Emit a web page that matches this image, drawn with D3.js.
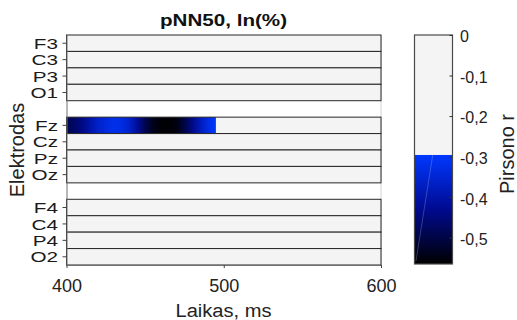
<!DOCTYPE html>
<html>
<head>
<meta charset="utf-8">
<script src="https://cdn.jsdelivr.net/npm/d3@7"></script>
<style>
  html, body { margin: 0; padding: 0; background: #fff; }
  svg { display: block; font-family: "Liberation Sans", Arial, sans-serif; }
</style>
</head>
<body>
<svg id="chart" width="517" height="320"></svg>
<script>
// Electrode rows, top to bottom; "_1"/"_2" are empty spacer rows between groups
const rowSlots = ["F3", "C3", "P3", "O1", "_1", "Fz", "Cz", "Pz", "Oz", "_2", "F4", "C4", "P4", "O2"];
const electrodes = rowSlots.filter(d => !d.startsWith("_"));

// Time axis (ms)
const timeTicks = [400, 500, 600];

// Significant Pearson r for Fz, sampled every 5 ms (all other electrodes non-significant)
const fzTimes = [400, 405, 410, 415, 420, 425, 430, 435, 440, 445,
                 450, 455, 460, 465, 470, 475, 480, 485, 490, 495];
const fzR = [-0.49, -0.47, -0.44, -0.40, -0.36, -0.34, -0.32, -0.33, -0.36, -0.42,
             -0.49, -0.54, -0.56, -0.56, -0.55, -0.50, -0.44, -0.38, -0.33, -0.30];
const sigElectrode = "Fz";

// Colour scale range and colorbar ticks
const rMin = -0.565;
const rThreshold = -0.296;
const cbTicks = [0, -0.1, -0.2, -0.3, -0.4, -0.5];

const svg = d3.select("#chart");
const plot = { left: 66.5, right: 381, top: 35, bottom: 265 };
const cb = { left: 414.5, right: 452.5, top: 35, bottom: 264 };

const x = d3.scaleLinear().domain([400, 600]).range([plot.left, plot.right]);
const y = d3.scaleBand().domain(rowSlots).range([plot.top, plot.bottom]).padding(0);
const nsColor = "#f4f4f4";

// Colormap: black at the strongest negative r, bright blue at the significance cut-off
const cmap = d3.scaleLinear()
  .domain([rMin, -0.43, rThreshold])
  .range(["#000000", "#000a90", "#0038ff"])
  .clamp(true);
const colorOf = r => (r == null || r > rThreshold) ? nsColor : cmap(r);

const defs = svg.append("defs");

// Light right-hand frame edge (visible through the spacer rows)
svg.append("line")
  .attr("x1", plot.right).attr("x2", plot.right)
  .attr("y1", plot.top).attr("y2", plot.bottom)
  .attr("stroke", "#d4d4d4");

const rows = svg.append("g");
electrodes.forEach(name => {
  rows.append("rect")
    .attr("x", plot.left).attr("y", y(name))
    .attr("width", plot.right - plot.left).attr("height", y.bandwidth())
    .attr("fill", nsColor);

  if (name === sigElectrode) {
    const t0 = fzTimes[0], t1 = fzTimes[fzTimes.length - 1];
    const grad = defs.append("linearGradient")
      .attr("id", "grad-" + name)
      .attr("gradientUnits", "userSpaceOnUse")
      .attr("x1", x(t0)).attr("x2", x(t1)).attr("y1", 0).attr("y2", 0);
    fzTimes.forEach((t, i) => {
      grad.append("stop")
        .attr("offset", (t - t0) / (t1 - t0))
        .attr("stop-color", colorOf(fzR[i]));
    });
    rows.append("rect")
      .attr("x", x(t0)).attr("y", y(name))
      .attr("width", x(t1) - x(t0)).attr("height", y.bandwidth())
      .attr("fill", "url(#grad-" + name + ")");
  }

  rows.append("rect")
    .attr("x", plot.left).attr("y", y(name))
    .attr("width", plot.right - plot.left).attr("height", y.bandwidth())
    .attr("fill", "none")
    .attr("stroke", "#262626").attr("stroke-width", 1);
});

// Y axis (electrodes)
const yScaleX = 1.38;
const yAxis = svg.append("g")
  .attr("transform", `translate(${plot.left},0)`)
  .call(d3.axisLeft(y).tickValues(electrodes).tickSizeInner(4).tickSizeOuter(0).tickPadding(0));
yAxis.select(".domain").attr("stroke", "#707070");
yAxis.selectAll(".tick line").attr("stroke", "#404040");
yAxis.selectAll(".tick text")
  .attr("x", -8.5 / yScaleX)
  .attr("dy", "0.38em")
  .attr("transform", `scale(${yScaleX},1)`)
  .attr("font-size", 15)
  .attr("font-family", "Liberation Sans, Arial, sans-serif")
  .attr("fill", "#1a1a1a");

// X axis (time)
const xAxis = svg.append("g")
  .attr("transform", `translate(0,${plot.bottom})`)
  .call(d3.axisBottom(x).tickValues(timeTicks).tickSizeInner(3).tickSizeOuter(0).tickPadding(11.7));
xAxis.select(".domain").attr("stroke", "#707070");
xAxis.selectAll(".tick line").attr("stroke", "#404040");
xAxis.selectAll(".tick text")
  .attr("font-size", 18)
  .attr("font-family", "Liberation Sans, Arial, sans-serif")
  .attr("fill", "#222");

// Title and axis titles
svg.append("text")
  .attr("x", 223.5).attr("y", 26)
  .attr("text-anchor", "middle")
  .attr("font-size", 16.5).attr("font-weight", "bold")
  .attr("textLength", 127).attr("lengthAdjust", "spacingAndGlyphs")
  .attr("fill", "#111")
  .text("pNN50, ln(%)");

svg.append("text")
  .attr("x", 223.5).attr("y", 316.5)
  .attr("text-anchor", "middle")
  .attr("font-size", 18)
  .attr("textLength", 96).attr("lengthAdjust", "spacingAndGlyphs")
  .attr("fill", "#222")
  .text("Laikas, ms");

svg.append("text")
  .attr("transform", "translate(23.5,150) rotate(-90)")
  .attr("text-anchor", "middle")
  .attr("font-size", 20)
  .attr("fill", "#222")
  .text("Elektrodas");

// Colorbar
const cbScale = d3.scaleLinear().domain([0, rMin]).range([cb.top, cb.bottom]);
const cbGrad = defs.append("linearGradient")
  .attr("id", "cb-grad")
  .attr("gradientUnits", "userSpaceOnUse")
  .attr("x1", 0).attr("x2", 0)
  .attr("y1", cbScale(rThreshold)).attr("y2", cbScale(rMin));
cmap.domain().slice().reverse().forEach(v => {
  cbGrad.append("stop")
    .attr("offset", (cbScale(v) - cbScale(rThreshold)) / (cbScale(rMin) - cbScale(rThreshold)))
    .attr("stop-color", cmap(v));
});

svg.append("rect")
  .attr("x", cb.left).attr("y", cbScale(0))
  .attr("width", cb.right - cb.left).attr("height", cbScale(rThreshold) - cbScale(0))
  .attr("fill", nsColor);
svg.append("rect")
  .attr("x", cb.left).attr("y", cbScale(rThreshold))
  .attr("width", cb.right - cb.left).attr("height", cbScale(rMin) - cbScale(rThreshold))
  .attr("fill", "url(#cb-grad)");
// faint seam across the colour patch
svg.append("line")
  .attr("x1", cb.left + (cb.right - cb.left) * 0.48).attr("y1", cbScale(rThreshold))
  .attr("x2", cb.left + 1.5).attr("y2", cb.bottom - 3)
  .attr("stroke", "#ffffff").attr("stroke-opacity", 0.3).attr("stroke-width", 0.7);
svg.append("rect")
  .attr("x", cb.left).attr("y", cb.top)
  .attr("width", cb.right - cb.left).attr("height", cb.bottom - cb.top)
  .attr("fill", "none").attr("stroke", "#4a4a4a").attr("stroke-width", 1.2);

const ltLocale = d3.formatLocale({ decimal: ",", thousands: " ", grouping: [3], currency: ["", ""], minus: "-" });
const cbAxis = svg.append("g")
  .attr("transform", `translate(${cb.right},0)`)
  .call(d3.axisRight(cbScale).tickValues(cbTicks).tickFormat(ltLocale.format(".1~f"))
    .tickSizeInner(-3).tickSizeOuter(0).tickPadding(7.5));
cbAxis.select(".domain").remove();
cbAxis.selectAll(".tick line").attr("stroke", "#333");
cbAxis.selectAll(".tick text")
  .attr("dy", "0.43em")
  .attr("font-size", 16)
  .attr("font-family", "Liberation Sans, Arial, sans-serif")
  .attr("fill", "#222");

svg.append("text")
  .attr("transform", "translate(513.5,154) rotate(-90)")
  .attr("text-anchor", "middle")
  .attr("font-size", 20)
  .attr("fill", "#222")
  .text("Pirsono r");
</script>
</body>
</html>
